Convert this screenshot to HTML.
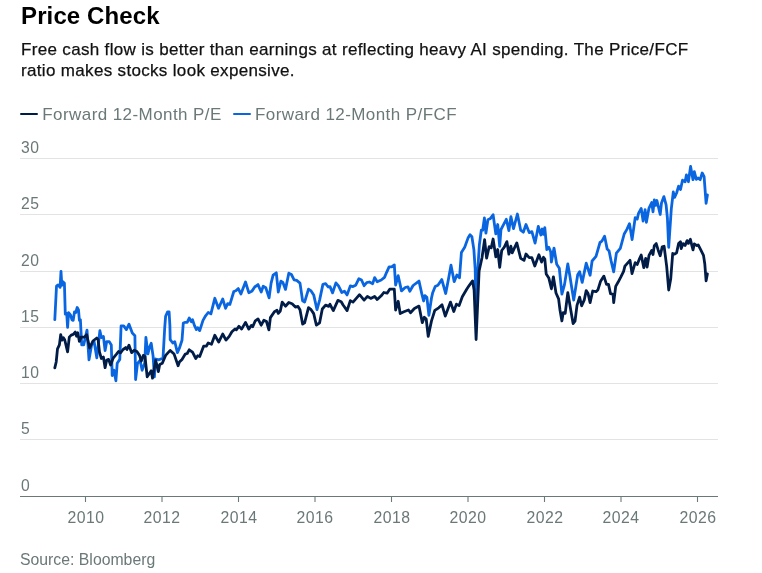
<!DOCTYPE html>
<html><head><meta charset="utf-8"><style>
html,body{margin:0;padding:0;background:#fff;width:762px;height:573px;overflow:hidden;position:relative;font-family:"Liberation Sans",sans-serif}
.t,.yl,.xl{position:absolute;white-space:nowrap;will-change:transform}
#title{left:21px;top:1.8px;letter-spacing:0.12px;font-size:24px;font-weight:bold;color:#000;line-height:28px}
#sub{left:21px;top:39px;font-size:17px;color:#111;-webkit-text-stroke:0.25px #111;line-height:21px;letter-spacing:0.33px}
#leg{left:20px;top:105px;font-size:17px;color:#6b7878;line-height:20px;letter-spacing:0.42px}
.sw{display:inline-block;width:18px;height:2px;border-radius:1px;vertical-align:middle;margin-right:4.3px;position:relative;top:-2px}
.yl{position:absolute;left:20.5px;font-size:15.7px;letter-spacing:0.6px;color:#6b7878;line-height:16px}
.xl{position:absolute;top:509.6px;width:60px;text-align:center;font-size:15.8px;letter-spacing:0.45px;color:#6b7878;line-height:16px}
#src{left:20px;top:551.3px;font-size:15.8px;color:#6b7878;line-height:18px}
svg{position:absolute;left:0;top:0}
</style></head><body>
<div class="t" id="title">Price Check</div>
<div class="t" id="sub">Free cash flow is better than earnings at reflecting heavy AI spending. The Price/FCF<br>ratio makes stocks look expensive.</div>
<div class="t" id="leg"><span class="sw" style="background:#021c48"></span>Forward 12-Month P/E<span style="display:inline-block;width:11px"></span><span class="sw" style="background:#0a66e0"></span>Forward 12-Month P/FCF</div>
<svg width="762" height="573" viewBox="0 0 762 573">
<line x1="20" x2="718" y1="158.5" y2="158.5" stroke="#e2e4e4" stroke-width="1"/>
<line x1="20" x2="718" y1="214.5" y2="214.5" stroke="#e2e4e4" stroke-width="1"/>
<line x1="20" x2="718" y1="271.5" y2="271.5" stroke="#e2e4e4" stroke-width="1"/>
<line x1="20" x2="718" y1="327.5" y2="327.5" stroke="#e2e4e4" stroke-width="1"/>
<line x1="20" x2="718" y1="383.5" y2="383.5" stroke="#e2e4e4" stroke-width="1"/>
<line x1="20" x2="718" y1="439.5" y2="439.5" stroke="#e2e4e4" stroke-width="1"/>
<line x1="20" x2="718" y1="496.5" y2="496.5" stroke="#6b7878" stroke-width="1.1"/>
<line x1="85.5" x2="85.5" y1="496.5" y2="502" stroke="#6b7878" stroke-width="1.1"/>
<line x1="162" x2="162" y1="496.5" y2="502" stroke="#6b7878" stroke-width="1.1"/>
<line x1="238.5" x2="238.5" y1="496.5" y2="502" stroke="#6b7878" stroke-width="1.1"/>
<line x1="315" x2="315" y1="496.5" y2="502" stroke="#6b7878" stroke-width="1.1"/>
<line x1="391.5" x2="391.5" y1="496.5" y2="502" stroke="#6b7878" stroke-width="1.1"/>
<line x1="468" x2="468" y1="496.5" y2="502" stroke="#6b7878" stroke-width="1.1"/>
<line x1="544.5" x2="544.5" y1="496.5" y2="502" stroke="#6b7878" stroke-width="1.1"/>
<line x1="621" x2="621" y1="496.5" y2="502" stroke="#6b7878" stroke-width="1.1"/>
<line x1="697.5" x2="697.5" y1="496.5" y2="502" stroke="#6b7878" stroke-width="1.1"/>
<path d="M54.8 319.7 L56.5 286.2 L58.1 284.9 L60.1 287.3 L61.0 271.4 L61.8 285.3 L62.7 281.7 L64.4 283.0 L65.3 314.2 L66.7 313.4 L67.6 327.3 L68.6 312.7 L70.6 315.1 L71.9 319.7 L73.2 320.4 L74.5 311.8 L75.8 312.5 L77.2 307.5 L78.5 309.9 L79.4 320.4 L80.4 319.7 L81.7 344.9 L83.7 344.9 L87.0 330.1 L89.0 359.8 L91.6 344.9 L94.2 341.9 L96.8 357.8 L99.9 330.7 L101.4 337.7 L103.4 336.4 L105.1 350.6 L106.7 341.7 L109.3 341.7 L111.3 344.9 L112.2 375.5 L113.9 370.1 L115.9 380.8 L117.2 363.3 L119.8 359.4 L121.1 325.9 L123.7 325.9 L126.4 329.6 L129.0 324.2 L132.3 333.1 L134.9 335.7 L135.6 379.5 L137.5 363.3 L140.1 360.3 L142.1 370.3 L144.7 363.3 L145.9 337.3 L147.9 353.9 L149.4 347.6 L151.2 343.2 L153.1 356.1 L154.4 376.8 L155.7 359.0 L159.0 359.8 L163.0 358.1 L164.7 328.2 L165.6 316.4 L167.6 311.8 L169.1 311.8 L169.9 325.6 L170.2 339.7 L172.8 343.0 L174.8 341.7 L177.4 352.6 L179.4 348.2 L182.0 340.3 L183.3 323.0 L185.3 322.3 L187.2 322.3 L189.2 318.0 L191.2 321.7 L192.5 319.7 L194.5 325.6 L196.4 329.6 L197.7 327.6 L199.7 330.6 L203.0 320.4 L205.6 315.8 L208.2 312.5 L210.9 313.8 L214.8 298.3 L218.5 308.3 L222.7 299.0 L225.6 308.3 L227.7 303.6 L229.9 304.4 L233.8 291.5 L235.8 290.8 L238.3 288.6 L240.9 294.0 L245.5 282.0 L248.8 292.7 L252.1 290.9 L254.7 287.0 L258.0 284.6 L261.2 292.0 L263.2 286.3 L265.8 287.7 L269.1 297.9 L271.1 283.1 L273.1 275.2 L276.3 272.8 L278.3 292.0 L280.9 281.1 L282.9 282.4 L285.5 289.4 L288.8 273.2 L291.4 274.5 L294.1 279.8 L296.7 280.4 L300.0 283.1 L302.6 300.8 L304.6 302.1 L308.5 289.2 L311.1 290.9 L313.7 294.9 L317.0 309.7 L319.6 300.1 L322.9 284.4 L325.6 283.7 L328.2 287.0 L330.0 286.6 L332.6 292.9 L335.9 282.9 L338.5 285.9 L341.8 292.5 L344.4 291.2 L347.1 294.9 L350.3 285.9 L353.0 286.6 L355.6 285.3 L358.9 278.7 L361.5 280.0 L364.1 285.7 L366.7 282.7 L369.4 282.0 L372.7 283.7 L374.6 277.6 L377.2 281.8 L381.2 280.0 L384.5 277.4 L386.4 272.8 L389.1 266.9 L391.7 266.9 L394.3 264.9 L395.6 285.0 L398.2 275.7 L401.5 290.9 L405.2 287.5 L407.9 286.8 L409.8 291.2 L413.1 285.5 L419.0 281.1 L421.7 293.4 L423.6 301.0 L424.9 295.6 L426.9 297.3 L428.9 315.4 L431.5 298.0 L432.6 293.1 L435.2 286.6 L437.9 285.3 L441.8 279.6 L445.7 293.5 L448.3 280.0 L451.0 265.2 L454.2 281.7 L456.9 275.0 L459.5 277.8 L461.4 252.5 L464.7 247.3 L468.0 238.1 L470.0 234.8 L471.9 236.8 L473.9 249.9 L475.2 269.5 L476.1 313.1 L477.4 275.5 L479.4 244.6 L481.3 230.2 L482.7 230.2 L484.4 218.0 L485.9 233.2 L487.9 219.7 L490.5 218.4 L493.1 214.7 L495.8 233.9 L497.7 224.5 L499.7 246.3 L501.0 229.5 L503.0 225.6 L506.3 219.3 L508.9 230.6 L510.9 216.6 L513.5 228.6 L517.4 214.0 L520.7 230.2 L523.3 232.2 L526.0 224.5 L529.2 232.6 L531.9 231.7 L535.1 243.1 L538.3 226.3 L540.9 235.0 L542.2 229.0 L543.5 234.4 L544.8 227.6 L546.8 249.5 L548.8 247.3 L550.7 251.7 L551.4 262.1 L554.0 248.1 L556.7 264.3 L559.3 268.2 L561.9 294.2 L564.5 284.6 L567.8 263.9 L569.8 275.4 L573.7 300.1 L577.7 274.8 L579.6 271.7 L582.2 282.4 L586.2 263.2 L590.1 275.2 L592.1 261.0 L596.0 256.4 L600.0 242.5 L601.9 241.2 L604.6 236.2 L607.2 249.1 L609.1 251.0 L611.1 260.9 L613.7 271.9 L616.4 253.1 L620.3 248.4 L624.2 234.0 L626.9 229.4 L629.5 223.7 L632.1 239.6 L635.2 217.6 L637.2 219.1 L638.5 213.4 L641.2 208.4 L643.1 221.0 L645.1 209.7 L646.4 222.3 L649.0 208.1 L651.7 202.5 L653.0 211.8 L654.3 199.9 L655.6 205.3 L656.9 200.5 L660.2 214.5 L661.5 202.9 L663.9 196.6 L666.1 204.9 L667.4 218.0 L668.7 247.3 L671.3 208.8 L673.3 192.0 L674.6 197.4 L676.6 193.0 L678.6 186.1 L680.5 189.5 L682.5 180.2 L685.1 181.7 L686.4 174.9 L688.4 181.7 L690.6 166.4 L693.0 179.7 L694.3 171.6 L696.3 179.3 L698.2 178.0 L700.2 179.7 L702.2 173.0 L704.1 176.7 L706.1 203.3 L707.4 195.0" fill="none" stroke="#0a66e0" stroke-width="2.8" stroke-linejoin="round" stroke-linecap="round"/>
<path d="M54.8 367.9 L56.2 362.0 L57.5 348.9 L59.4 344.9 L60.7 334.7 L62.1 340.1 L63.4 337.7 L64.7 339.7 L67.6 351.9 L69.3 337.1 L71.2 335.1 L73.2 334.4 L75.2 332.1 L76.5 336.2 L77.8 332.7 L79.4 341.4 L81.1 337.1 L84.4 337.1 L86.7 334.7 L89.6 348.0 L92.9 341.0 L96.8 338.0 L98.1 339.7 L99.5 352.2 L101.4 358.5 L103.4 357.0 L105.1 367.7 L106.7 360.0 L108.6 359.4 L110.6 365.0 L113.2 358.1 L116.5 354.1 L118.5 351.5 L120.5 352.8 L123.1 349.5 L125.7 347.6 L127.0 349.5 L129.0 345.2 L131.6 352.6 L134.2 350.2 L136.9 351.5 L139.5 355.4 L141.3 361.1 L143.3 355.4 L145.0 356.7 L147.2 376.8 L149.2 373.8 L151.2 370.8 L152.5 378.2 L155.7 360.3 L158.4 371.6 L159.7 364.6 L162.3 363.3 L165.6 355.4 L170.2 350.4 L174.1 354.1 L178.1 365.7 L179.4 362.0 L182.0 359.4 L185.3 354.1 L187.2 353.5 L189.2 349.8 L192.5 352.2 L195.8 358.5 L197.7 355.7 L199.7 356.5 L203.6 346.2 L206.3 346.2 L208.2 343.0 L211.5 344.3 L214.8 335.3 L218.7 342.1 L222.7 334.0 L226.0 340.1 L229.2 336.4 L231.9 331.8 L235.0 329.0 L236.3 329.8 L238.9 326.3 L241.6 329.1 L245.5 322.4 L248.8 329.1 L251.4 325.4 L252.7 326.7 L255.3 320.8 L258.0 318.9 L261.2 325.2 L263.9 320.2 L266.5 321.5 L268.9 329.8 L270.4 317.6 L274.4 311.7 L277.0 310.3 L278.3 313.4 L280.3 311.0 L282.2 302.1 L285.5 306.2 L288.8 302.5 L292.1 303.8 L295.4 307.1 L298.0 306.4 L300.0 309.7 L302.6 324.1 L304.6 322.8 L308.5 307.7 L311.1 309.7 L313.7 313.6 L316.4 325.2 L319.6 322.8 L322.3 309.0 L325.6 305.1 L328.8 306.4 L330.0 304.3 L333.3 310.6 L337.9 300.4 L341.2 301.7 L343.1 305.0 L347.1 310.6 L350.3 300.6 L353.0 302.1 L359.5 294.7 L364.1 300.1 L367.4 296.4 L370.7 298.4 L374.6 296.4 L377.2 299.5 L381.2 295.8 L383.8 292.5 L387.1 293.2 L389.7 289.2 L394.3 289.2 L395.6 310.0 L398.2 301.3 L400.2 313.5 L403.9 311.7 L408.5 310.0 L410.5 312.8 L414.4 308.5 L419.0 306.1 L422.3 322.7 L424.3 317.2 L426.2 319.0 L428.2 336.4 L431.5 320.9 L434.8 310.4 L438.7 307.8 L442.0 304.8 L445.3 316.1 L450.5 302.1 L453.8 311.5 L456.4 304.1 L459.1 305.6 L462.3 296.7 L466.7 289.2 L469.3 285.3 L472.6 280.9 L474.1 290.0 L476.1 339.5 L479.1 270.9 L482.0 257.7 L484.6 239.6 L486.6 258.2 L489.2 246.6 L491.2 247.9 L493.1 239.0 L495.8 256.8 L497.7 249.5 L499.7 267.3 L501.7 250.5 L504.3 247.2 L506.9 241.6 L508.9 254.2 L510.9 246.2 L512.2 252.9 L516.8 242.9 L520.7 258.4 L524.0 260.4 L526.0 254.0 L529.2 257.7 L531.9 257.7 L534.8 266.0 L538.9 254.7 L541.6 262.1 L543.5 257.3 L544.8 259.0 L546.2 273.9 L548.8 277.9 L551.4 288.8 L553.4 276.8 L556.0 293.0 L558.6 298.9 L559.9 309.4 L561.9 320.9 L563.2 312.7 L565.2 313.3 L567.8 292.6 L570.4 308.1 L573.1 323.6 L575.0 321.2 L577.0 305.4 L579.6 297.1 L581.6 305.8 L584.2 300.2 L586.2 290.6 L588.1 293.6 L590.1 302.6 L592.7 291.0 L596.0 291.7 L598.0 289.7 L600.6 281.2 L603.9 276.1 L606.5 284.4 L608.5 284.4 L610.5 293.6 L613.1 294.3 L613.7 302.6 L615.7 286.4 L618.3 281.8 L621.0 276.6 L623.6 271.3 L624.9 266.2 L630.0 260.3 L632.0 273.6 L635.2 262.7 L637.2 264.6 L639.2 259.4 L641.2 255.0 L643.8 267.7 L645.7 258.3 L647.1 267.0 L649.0 255.4 L651.7 250.4 L653.0 254.5 L654.3 245.6 L656.2 243.6 L658.2 250.2 L660.2 255.8 L662.2 246.9 L664.1 246.2 L666.7 266.6 L668.7 290.0 L670.7 279.1 L672.7 253.5 L674.6 254.1 L676.6 252.8 L678.6 243.6 L680.5 241.7 L681.2 248.6 L683.1 243.6 L685.1 245.6 L687.1 240.6 L688.4 243.4 L690.4 239.3 L691.7 244.9 L693.0 249.9 L694.3 243.9 L696.9 245.6 L698.2 244.9 L700.9 250.2 L703.5 255.4 L704.8 264.0 L706.1 280.8 L707.4 273.8" fill="none" stroke="#021c48" stroke-width="2.8" stroke-linejoin="round" stroke-linecap="round"/>
</svg>
<div class="yl" style="top:140.1px">30</div>
<div class="yl" style="top:196.1px">25</div>
<div class="yl" style="top:252.6px">20</div>
<div class="yl" style="top:309.1px">15</div>
<div class="yl" style="top:365.1px">10</div>
<div class="yl" style="top:421.1px">5</div>
<div class="yl" style="top:478.1px">0</div>
<div class="xl" style="left:55.5px">2010</div>
<div class="xl" style="left:132px">2012</div>
<div class="xl" style="left:208.5px">2014</div>
<div class="xl" style="left:285px">2016</div>
<div class="xl" style="left:361.5px">2018</div>
<div class="xl" style="left:438px">2020</div>
<div class="xl" style="left:514.5px">2022</div>
<div class="xl" style="left:591px">2024</div>
<div class="xl" style="left:667.5px">2026</div>
<div class="t" id="src">Source: Bloomberg</div>
</body></html>
